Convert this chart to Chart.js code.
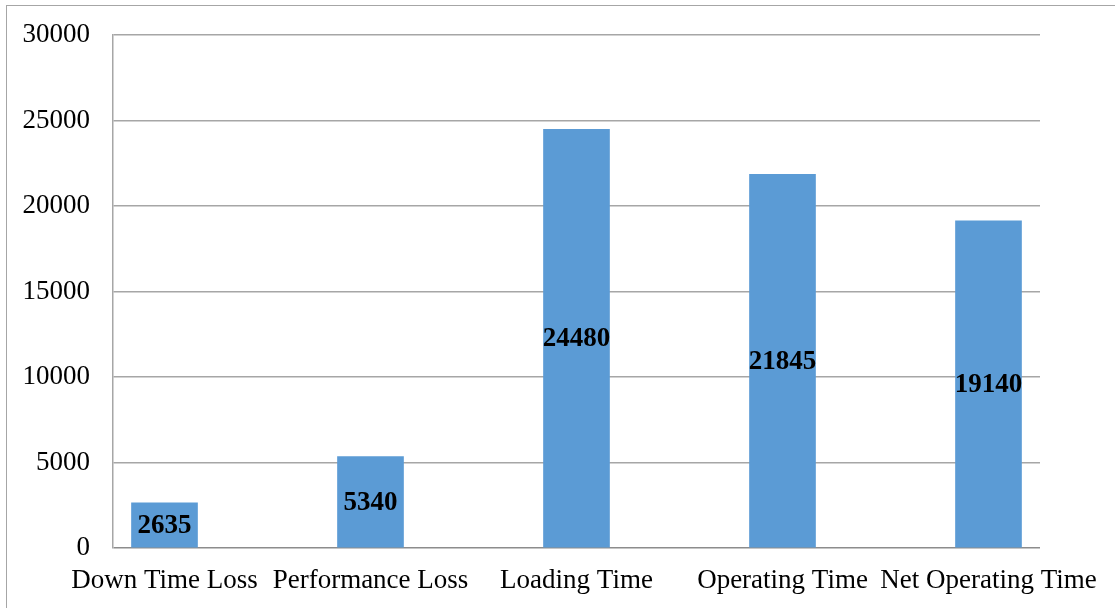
<!DOCTYPE html>
<html>
<head>
<meta charset="utf-8">
<script src="https://cdn.jsdelivr.net/npm/chart.js@4/dist/chart.umd.min.js"></script>
<style>
  html, body { margin: 0; padding: 0; background: #fff; overflow: hidden; }
  #wrap { position: relative; width: 1115px; height: 608px; }
  #frame { position: absolute; left: 6px; top: 5px; width: 1200px; height: 700px;
           border: 1px solid #a6a6a6; box-sizing: border-box; }
  canvas { position: absolute; left: 0; top: 0; }
</style>
</head>
<body>
<div id="wrap">
  <div id="frame"></div>
  <canvas id="c" width="1115" height="608"></canvas>
</div>
<script>
// Time breakdown (minutes)
const categories = ['Down Time Loss', 'Performance Loss', 'Loading Time', 'Operating Time', 'Net Operating Time'];
const values = [2635, 5340, 24480, 21845, 19140];
const yTicks = [0, 5000, 10000, 15000, 20000, 25000, 30000];

const serif = '"Liberation Serif", "Times New Roman", serif';
const gridGrey = '#a6a6a6';
const baseGrey = '#8c8c8c';

// Writes each value in bold at the middle of its bar
const barValueLabels = {
  id: 'barValueLabels',
  afterDatasetsDraw(chart) {
    const ctx = chart.ctx;
    const meta = chart.getDatasetMeta(0);
    ctx.save();
    ctx.font = 'bold 27px ' + serif;
    ctx.fillStyle = '#000';
    ctx.textAlign = 'center';
    ctx.textBaseline = 'middle';
    meta.data.forEach((bar, i) => {
      const mid = (bar.y + bar.base) / 2;
      ctx.fillText(String(values[i]), bar.x, mid + 1);
    });
    ctx.restore();
  }
};

new Chart(document.getElementById('c'), {
  type: 'bar',
  data: {
    datasets: [{
      data: values.map((v, i) => ({ x: i, y: v })),
      backgroundColor: '#5b9bd5',
      borderWidth: 0,
      barThickness: 66
    }]
  },
  options: {
    responsive: false,
    animation: false,
    layout: { padding: { left: 0, right: 75, top: 35, bottom: 0 } },
    plugins: { legend: { display: false }, tooltip: { enabled: false } },
    scales: {
      x: {
        type: 'linear',
        offset: false,
        min: -0.25,
        max: categories.length - 0.75,
        afterBuildTicks(scale) { scale.ticks = categories.map((_, i) => ({ value: i })); },
        afterFit(scale) {
          scale.height = 60;
          scale.paddingLeft = 0;
          scale.paddingRight = 0;
        },
        grid: { display: false, drawTicks: false },
        border: { display: false },
        ticks: {
          autoSkip: false,
          maxRotation: 0,
          padding: 17,
          color: '#000',
          font: { family: serif, size: 27 },
          callback: (v) => categories[v]
        }
      },
      y: {
        min: yTicks[0],
        max: yTicks[yTicks.length - 1],
        afterBuildTicks(scale) { scale.ticks = yTicks.map(v => ({ value: v })); },
        afterFit(scale) {
          scale.width = 113;
          scale.paddingTop = 0;
          scale.paddingBottom = 0;
        },
        grid: {
          color: (c) => (c.tick && c.tick.value === 0 ? baseGrey : gridGrey),
          lineWidth: 1.5,
          drawTicks: false
        },
        border: { display: true, color: gridGrey, width: 1.5 },
        ticks: {
          padding: 23,
          color: '#000',
          font: { family: serif, size: 27 },
          callback: (v) => String(v)
        }
      }
    }
  },
  plugins: [barValueLabels]
});
</script>
</body>
</html>
